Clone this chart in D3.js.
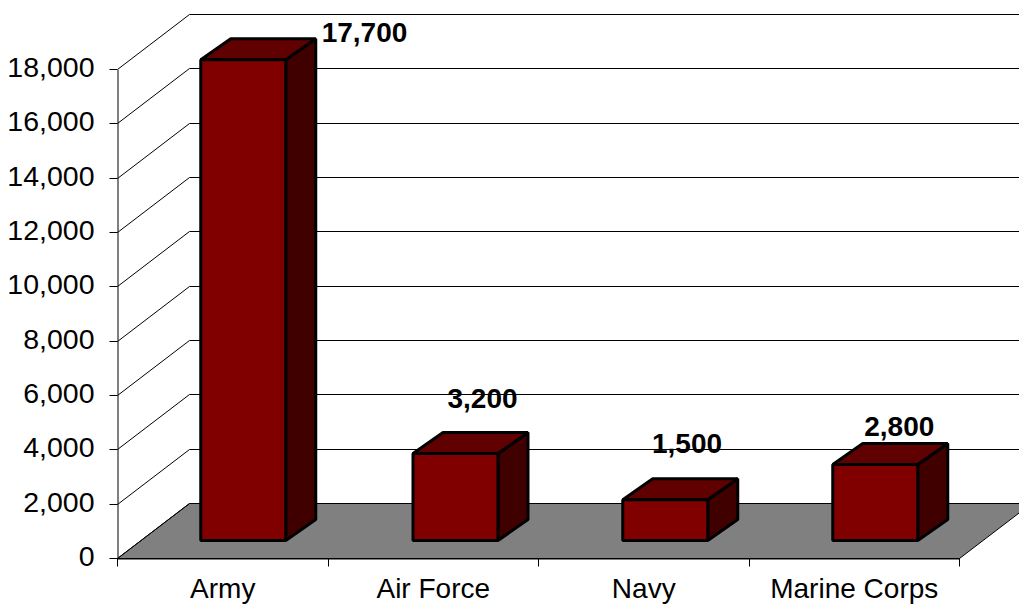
<!DOCTYPE html>
<html>
<head>
<meta charset="utf-8">
<script src="https://cdn.jsdelivr.net/npm/d3@7"></script>
<style>
html,body{margin:0;padding:0;background:#fff;overflow:hidden}
svg{display:block}
text{font-family:"Liberation Sans",Arial,sans-serif;fill:#000}
</style>
</head>
<body>
<svg id="c" width="1019" height="605"></svg>
<script>
const categories = ["Army", "Air Force", "Navy", "Marine Corps"];
const values = [17700, 3200, 1500, 2800];
const valueLabels = ["17,700", "3,200", "1,500", "2,800"];
const yTicks = [0, 2000, 4000, 6000, 8000, 10000, 12000, 14000, 16000, 18000];

// layout
const depth = {x: 72, y: -55};
const barDepth = {x: 30, y: -21};
const barInset = {x: 20.5, y: -18};
const barNudge = [0, 1.75, 1, 0.5];
const labelShift = [121.25, 27, 21.75, 24];
const labelLift = [-3.4, 24.6, 25.5, 7.4];

const svg = d3.select("#c");
const y = d3.scaleLinear().domain([0, 18000]).range([558.5, 69.5]);
const x = d3.scaleBand().domain(categories).range([117.5, 959.5]);
const barW = 85;
const xStart = x.range()[0], xEnd = x.range()[1];
const W = 1019;
const snap = v => Math.floor(v) + 0.5;

// floor
svg.append("polygon")
  .attr("points", [[xStart, y(0)], [xStart + depth.x, y(0) + depth.y], [xEnd + depth.x, y(0) + depth.y], [xEnd, y(0)]].join(" "))
  .attr("fill", "#808080").attr("stroke", "#000").attr("stroke-width", 1);

// back-wall gridlines and side-wall diagonals
const grid = svg.append("g").attr("stroke", "#000").attr("stroke-width", 1).attr("fill", "none");
yTicks.forEach(t => {
  const py = snap(y(t));
  if (t > 0) {
    grid.append("line").attr("x1", xStart + depth.x).attr("x2", W)
      .attr("y1", py + depth.y).attr("y2", py + depth.y);
  }
  grid.append("line").attr("x1", xStart).attr("y1", py)
    .attr("x2", xStart + depth.x).attr("y2", py + depth.y);
});

// y axis
const yAxis = d3.axisLeft(y).tickValues(yTicks).tickSize(8).tickSizeOuter(0).tickPadding(15)
  .tickFormat(d3.format(","));
const gy = svg.append("g").attr("transform", `translate(${xStart},0)`).call(yAxis);
gy.selectAll("text").attr("font-size", 28.5).attr("font-family", '"Liberation Sans",Arial,sans-serif').attr("dy", "0.27em");
gy.selectAll("line,path").attr("stroke", "#000");
gy.selectAll(".tick").attr("transform", d => `translate(0,${snap(y(d))})`);

// x axis
const xAxis = d3.axisBottom(x).tickSize(0).tickSizeOuter(0);
const gx = svg.append("g").attr("transform", `translate(0,${y(0)})`).call(xAxis);
gx.select("path").attr("stroke", "#000");
gx.selectAll("text").attr("font-size", 28).attr("font-family", '"Liberation Sans",Arial,sans-serif')
  .attr("y", 39.5).attr("dy", 0);
categories.concat(null).forEach(c => {
  const px = snap(c ? x(c) : xEnd);
  gx.append("line").attr("x1", px).attr("x2", px)
    .attr("y1", 0).attr("y2", 8).attr("stroke", "#000");
});

// bars
const bars = svg.append("g").attr("stroke", "#000").attr("stroke-width", 3).attr("stroke-linejoin", "bevel");
categories.forEach((c, i) => {
  const x0 = x(c) + (x.bandwidth() - barW) / 2 + barInset.x + barNudge[i];
  const x1 = x0 + barW;
  const y0 = y(0) + barInset.y;
  const yT = y(values[i]) + barInset.y;
  const dx = barDepth.x, dy = barDepth.y;
  bars.append("polygon").attr("fill", "#400000")
    .attr("points", [[x1, y0], [x1 + dx, y0 + dy], [x1 + dx, yT + dy], [x1, yT]].join(" "));
  bars.append("polygon").attr("fill", "#600000")
    .attr("points", [[x0, yT], [x0 + dx, yT + dy], [x1 + dx, yT + dy], [x1, yT]].join(" "));
  bars.append("rect").attr("fill", "#800000")
    .attr("x", x0).attr("y", yT).attr("width", barW).attr("height", y0 - yT);
  svg.append("text")
    .attr("x", x0 + barW / 2 + labelShift[i])
    .attr("y", yT + barDepth.y - labelLift[i])
    .attr("text-anchor", "middle").attr("font-size", 28).attr("font-weight", "bold")
    .text(valueLabels[i]);
});
</script>
</body>
</html>
